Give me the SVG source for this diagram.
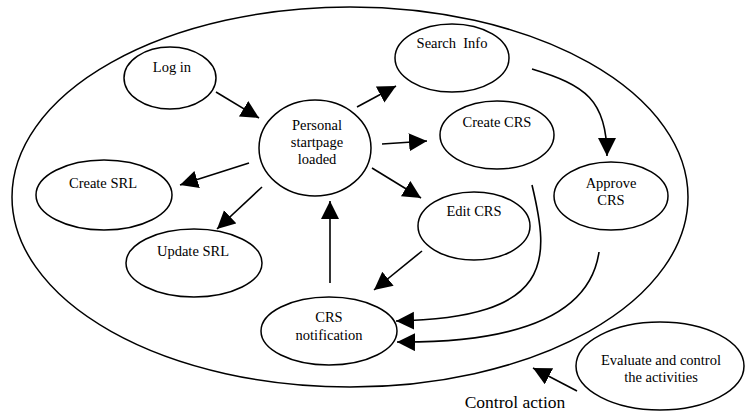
<svg xmlns="http://www.w3.org/2000/svg" width="745" height="412" viewBox="0 0 745 412">
  <style>
    .node ellipse { fill: #fff; stroke: #000; stroke-width: 1.5; }
    .node text { font-family: "Liberation Serif", "Times New Roman", serif; font-size: 14.5px; fill: #000; text-anchor: middle; }
    .edge { fill: none; stroke: #000; stroke-width: 1.6; marker-end: url(#head); }
    .frame { fill: none; stroke: #000; stroke-width: 1.5; }
    .caption { font-family: "Liberation Serif", "Times New Roman", serif; font-size: 17.5px; fill: #000; text-anchor: middle; }
  </style>
  <defs>
    <marker id="head" markerUnits="userSpaceOnUse" markerWidth="20" markerHeight="20" viewBox="0 0 20 20" refX="18" refY="9" orient="auto">
      <path d="M0,0 L18,9 L0,18 z" fill="#000"/>
    </marker>
  </defs>
  <rect width="745" height="412" fill="#fff"/>

  <!-- system boundary -->
  <ellipse id="boundary" class="frame" cx="350" cy="197" rx="338" ry="190"/>

  <g id="login" class="node">
    <ellipse cx="170" cy="78" rx="46" ry="31"/>
    <text x="172" y="72">Log in</text>
  </g>
  <g id="startpage" class="node">
    <ellipse cx="315" cy="148" rx="56" ry="48"/>
    <text x="317" y="130">Personal</text>
    <text x="317" y="147">startpage</text>
    <text x="317" y="164">loaded</text>
  </g>
  <g id="create-srl" class="node">
    <ellipse cx="104" cy="195" rx="68" ry="35"/>
    <text x="103" y="188">Create SRL</text>
  </g>
  <g id="update-srl" class="node">
    <ellipse cx="194" cy="263" rx="68" ry="34"/>
    <text x="193" y="256">Update SRL</text>
  </g>
  <g id="crs-notification" class="node">
    <ellipse cx="329" cy="331" rx="68" ry="34"/>
    <text x="329" y="322">CRS</text>
    <text x="329" y="340">notification</text>
  </g>
  <g id="search-info" class="node">
    <ellipse cx="452" cy="58" rx="57" ry="34"/>
    <text x="452" y="48" xml:space="preserve">Search  Info</text>
  </g>
  <g id="create-crs" class="node">
    <ellipse cx="497" cy="135" rx="57" ry="34"/>
    <text x="497" y="127">Create CRS</text>
  </g>
  <g id="approve-crs" class="node">
    <ellipse cx="611" cy="196" rx="57" ry="34"/>
    <text x="611" y="188">Approve</text>
    <text x="611" y="205">CRS</text>
  </g>
  <g id="edit-crs" class="node">
    <ellipse cx="474" cy="226" rx="56" ry="34"/>
    <text x="474" y="216">Edit CRS</text>
  </g>
  <g id="evaluate" class="node">
    <ellipse cx="660" cy="366" rx="84" ry="44"/>
    <text x="661" y="365">Evaluate and control</text>
    <text x="661" y="382">the activities</text>
  </g>

  <g id="connectors">
    <path class="edge" d="M216,92 L259,118"/>
    <path class="edge" d="M357,107 L396,86"/>
    <path class="edge" d="M382,144 L427,141"/>
    <path class="edge" d="M372,168 L421,198"/>
    <path class="edge" d="M249,163 L180,185"/>
    <path class="edge" d="M262,187 L217,229"/>
    <path class="edge" d="M330,283 L330,201"/>
    <path class="edge" d="M422,251 L374,290"/>
    <path class="edge" d="M532,69 C585,85 607,100 607,156"/>
    <path class="edge" d="M532,185 C550,260 555,318 396,321"/>
    <path class="edge" d="M599,252 C590,314 520,343 397,342"/>
    <path class="edge" d="M577,391 L533,368"/>
  </g>

  <text class="caption" x="515" y="408">Control action</text>
</svg>
